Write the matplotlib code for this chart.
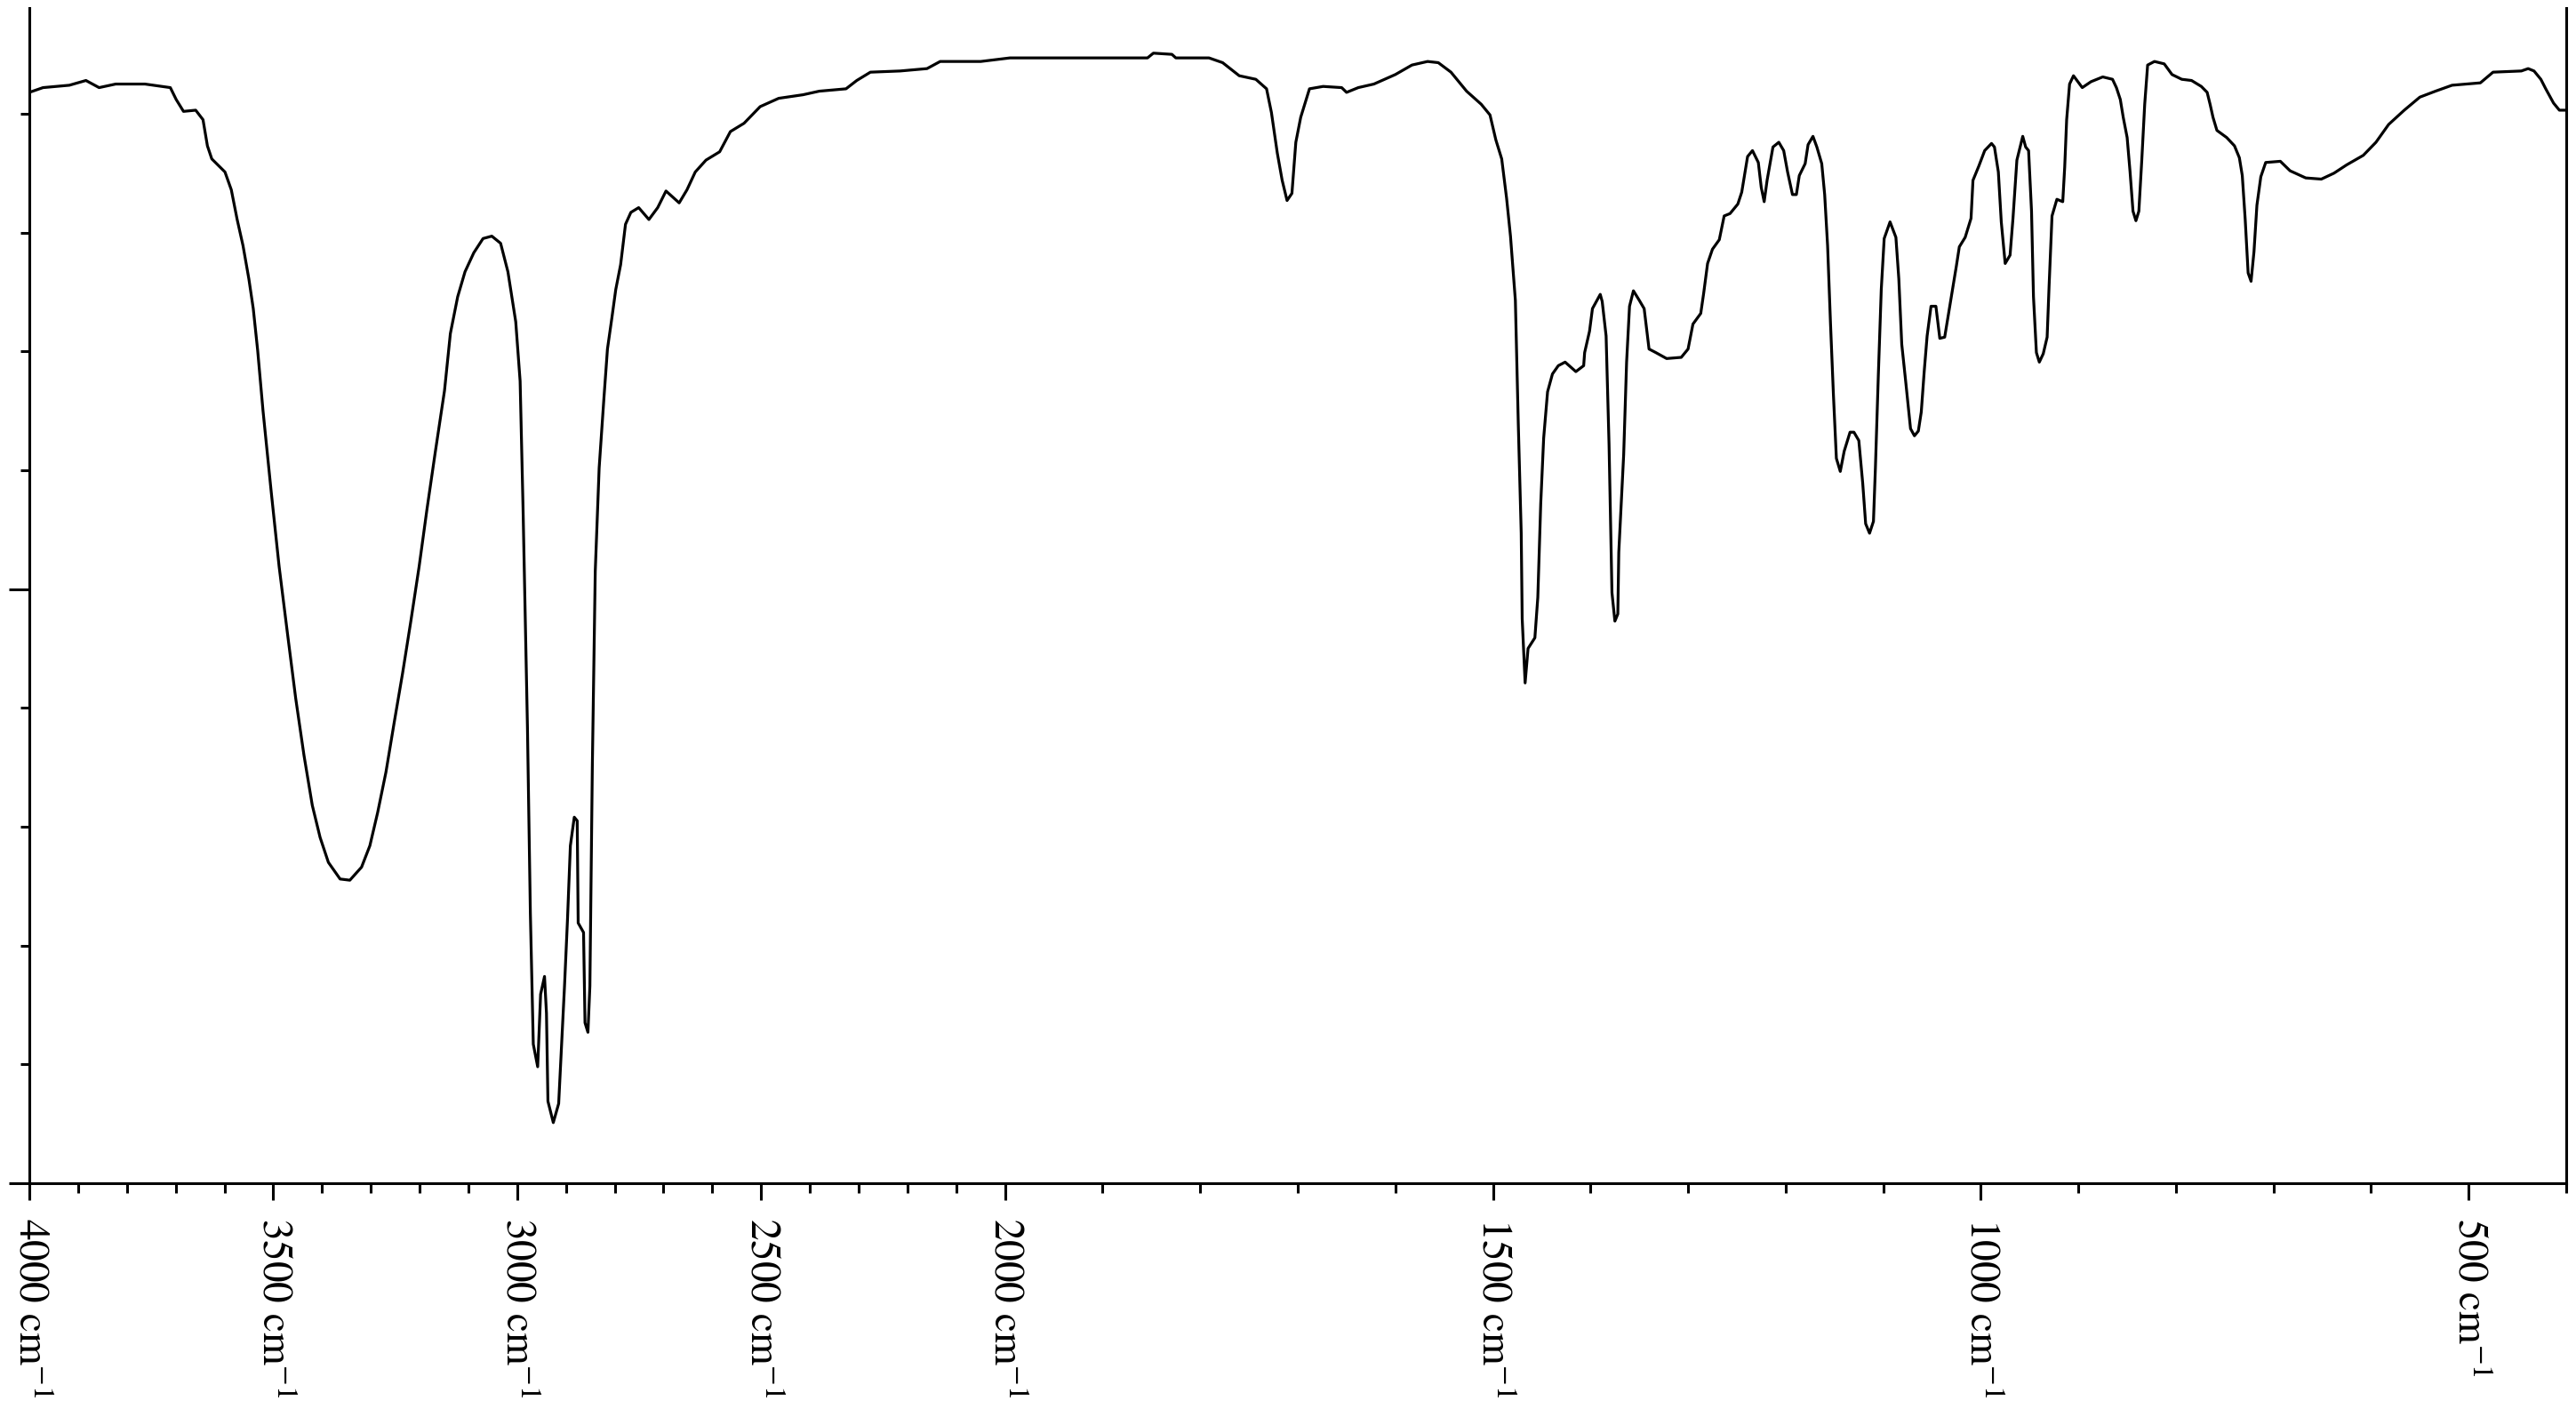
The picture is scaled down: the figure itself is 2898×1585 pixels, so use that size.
import numpy as np
import matplotlib
matplotlib.use("Agg")
import matplotlib.pyplot as plt

plt.rcParams['font.family'] = ['STIXGeneral', 'Liberation Serif', 'DejaVu Serif']
plt.rcParams['mathtext.fontset'] = 'stix'

# IR spectrum (wavenumber in cm-1, transmittance in %)
wavenumber = [
    4000, 3972, 3918, 3884, 3857, 3823, 3763, 3711, 3699, 3684, 3659, 3644, 3635, 3626,
    3599, 3586, 3574, 3562, 3550, 3541, 3532, 3521, 3504, 3488, 3471, 3454, 3437, 3420,
    3404, 3387, 3363, 3343, 3319, 3302, 3286, 3269, 3252, 3235, 3218, 3201, 3185, 3168,
    3149, 3137, 3122, 3107, 3089, 3070, 3052, 3034, 3019, 3003, 2994, 2988, 2979, 2973,
    2967, 2958, 2952, 2944, 2940, 2937, 2926, 2915, 2909, 2903, 2897, 2891, 2883, 2877,
    2875, 2864, 2861, 2855, 2851, 2846, 2840, 2832, 2822, 2815, 2806, 2798, 2788, 2778,
    2767, 2751, 2730, 2712, 2695, 2668, 2652, 2635, 2613, 2585, 2563, 2535, 2502, 2464,
    2414, 2381, 2326, 2304, 2276, 2215, 2160, 2133, 2050, 1995, 1854, 1848, 1829, 1825,
    1791, 1777, 1760, 1743, 1732, 1727, 1721, 1716, 1711, 1706, 1702, 1697, 1688, 1674,
    1655, 1650, 1638, 1622, 1600, 1583, 1567, 1556, 1543, 1527, 1512, 1503, 1497, 1491,
    1486, 1482, 1477, 1474, 1471, 1470, 1467, 1464, 1457, 1454, 1451, 1448, 1444, 1439,
    1433, 1426, 1415, 1407, 1406, 1401, 1398, 1390, 1388, 1384, 1381, 1378, 1375, 1372,
    1371, 1366, 1363, 1360, 1356, 1350, 1345, 1340, 1333, 1322, 1307, 1300, 1295, 1287,
    1284, 1280, 1275, 1268, 1263, 1257, 1249, 1245, 1242, 1239, 1234, 1228, 1225, 1222,
    1219, 1213, 1207, 1202, 1198, 1193, 1189, 1186, 1180, 1177, 1172, 1168, 1163, 1160,
    1157, 1154, 1151, 1148, 1144, 1140, 1134, 1130, 1125, 1121, 1118, 1114, 1110, 1108,
    1105, 1102, 1099, 1093, 1087, 1084, 1081, 1077, 1072, 1068, 1064, 1061, 1058, 1055,
    1051, 1046, 1042, 1037, 1033, 1029, 1025, 1022, 1016, 1010, 1008, 1002, 996, 989,
    986, 982, 979, 975, 970, 967, 963, 957, 954, 951, 948, 946, 943, 940,
    936, 932, 930, 927, 922, 916, 914, 912, 909, 905, 896, 887, 875, 865,
    861, 857, 854, 850, 847, 844, 841, 838, 835, 832, 829, 822, 812, 804,
    794, 784, 774, 768, 765, 762, 758, 748, 740, 735, 732, 729, 726, 723,
    720, 717, 713, 708, 693, 683, 667, 651, 638, 625, 608, 595, 582, 566,
    550, 534, 517, 488, 475, 446, 439, 433, 426, 421, 413, 407, 402, 400,
]
transmittance = [
    91.8, 92.2, 92.4, 92.8, 92.2, 92.5, 92.5, 92.2, 91.2, 90.2, 90.3, 89.5, 87.3, 86.2,
    85.1, 83.6, 81.1, 78.9, 76.1, 73.6, 70.1, 65.0, 58.1, 51.9, 46.3, 40.8, 36.0, 31.8,
    29.1, 27.0, 25.6, 25.5, 26.6, 28.4, 31.2, 34.6, 38.8, 42.9, 47.3, 51.9, 56.7, 61.5,
    66.7, 71.5, 74.6, 76.7, 78.3, 79.5, 79.7, 79.1, 76.7, 72.5, 67.5, 56.8, 38.4, 22.7,
    11.7, 9.8, 15.9, 17.4, 14.3, 6.9, 5.1, 6.7, 11.7, 16.6, 22.1, 28.4, 30.8, 30.5,
    21.9, 21.1, 13.5, 12.7, 16.6, 35.0, 51.5, 60.2, 66.2, 70.2, 72.8, 75.2, 77.3, 80.7,
    81.7, 82.1, 81.1, 82.1, 83.5, 82.5, 83.6, 85.1, 86.1, 86.8, 88.5, 89.2, 90.6, 91.3,
    91.6, 91.9, 92.1, 92.8, 93.5, 93.6, 93.8, 94.4, 94.4, 94.7, 94.7, 95.1, 95.0, 94.7,
    94.7, 94.3, 93.2, 92.9, 92.1, 90.1, 86.7, 84.4, 82.7, 83.3, 87.6, 89.7, 92.1, 92.3,
    92.2, 91.8, 92.2, 92.5, 93.3, 94.1, 94.4, 94.3, 93.5, 91.9, 90.8, 89.9, 87.8, 86.2,
    82.9, 79.7, 74.3, 63.9, 54.7, 47.5, 42.1, 45.0, 45.9, 49.3, 57.2, 62.7, 66.6, 68.1,
    68.8, 69.1, 68.3, 68.8, 69.9, 71.7, 73.6, 74.8, 74.2, 71.3, 62.2, 49.7, 47.3, 47.9,
    53.1, 61.3, 69.1, 73.8, 75.1, 74.3, 73.6, 70.2, 69.9, 69.4, 69.5, 70.2, 72.3, 73.2,
    74.9, 77.4, 78.6, 79.4, 81.4, 81.6, 82.4, 83.4, 84.9, 86.4, 86.9, 85.9, 83.8, 82.6,
    84.4, 87.2, 87.6, 86.9, 85.1, 83.2, 83.2, 84.8, 85.8, 87.4, 88.1, 87.2, 85.8, 83.2,
    78.9, 72.3, 66.3, 61.0, 59.9, 61.6, 63.2, 63.2, 62.5, 58.9, 55.5, 54.7, 55.7, 60.2,
    68.0, 75.2, 79.5, 80.9, 79.6, 76.1, 70.6, 67.5, 63.5, 62.9, 63.3, 64.9, 68.3, 71.3,
    73.8, 73.8, 71.1, 71.2, 73.2, 75.2, 77.2, 78.8, 79.6, 81.2, 84.4, 85.6, 86.9, 87.5,
    87.2, 85.1, 80.9, 77.4, 78.1, 81.2, 86.1, 88.1, 87.2, 86.9, 81.8, 74.6, 69.9, 69.1,
    69.8, 71.2, 75.5, 81.4, 82.8, 82.6, 85.5, 89.5, 92.5, 93.2, 92.2, 92.7, 93.1, 92.9,
    92.2, 91.2, 89.7, 88.0, 85.1, 81.8, 81.0, 81.8, 86.1, 90.8, 94.1, 94.4, 94.2, 93.3,
    92.9, 92.8, 92.3, 91.8, 90.8, 89.7, 88.6, 88.0, 87.3, 86.3, 84.8, 81.1, 76.6, 75.9,
    78.4, 82.3, 84.7, 85.9, 86.0, 85.2, 84.6, 84.5, 85.0, 85.7, 86.5, 87.6, 89.1, 90.3,
    91.4, 91.9, 92.4, 92.6, 93.5, 93.6, 93.8, 93.6, 92.9, 92.1, 90.9, 90.3, 90.3, 90.3,
]

major_ticks = [4000, 3500, 3000, 2500, 2000, 1500, 1000, 500]
tick_labels = [f"{t} cm$^{{-1}}$" for t in major_ticks]


# above 2000 cm-1 the axis is compressed by a factor 2
def fwd(x):
    x = np.asarray(x, dtype=float)
    return np.where(x >= 2000, 2000 + (x - 2000) / 2, x)


def inv(u):
    u = np.asarray(u, dtype=float)
    return np.where(u >= 2000, 2000 + (u - 2000) * 2, u)


W, H = 2898, 1585
fig = plt.figure(figsize=(W / 100, H / 100), dpi=100)
ax = fig.add_axes([33 / W, 1 - 1331 / H, (2887 - 33) / W, (1331 - 9) / H])

ax.plot(wavenumber, transmittance, color='black', lw=2.3)

ax.set_xscale('function', functions=(fwd, inv))
ax.set_xlim(4000, 400)
ax.set_ylim(0, 98.9)

ax.set_xticks(major_ticks)
ax.set_xticklabels(tick_labels, rotation=-90, fontsize=34)
ax.set_xticks(np.arange(400, 4001, 100), minor=True)
ax.set_yticks([0, 50])
ax.set_yticks([10, 20, 30, 40, 60, 70, 80, 90], minor=True)
ax.set_yticklabels([])

ax.spines['top'].set_visible(False)
for s in ['left', 'bottom', 'right']:
    ax.spines[s].set_linewidth(2.2)

ax.tick_params(axis='x', which='major', length=14, width=2.2, pad=14)
ax.tick_params(axis='x', which='minor', length=8, width=2.2)
ax.tick_params(axis='y', which='major', length=16.5, width=2.2)
ax.tick_params(axis='y', which='minor', length=7.2, width=2.2)

fig.savefig("out.png", dpi=100)
